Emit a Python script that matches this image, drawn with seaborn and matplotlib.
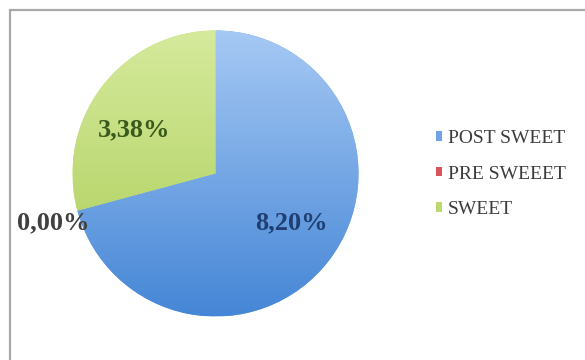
import numpy as np
import matplotlib
matplotlib.use("Agg")
import matplotlib.pyplot as plt
from matplotlib.colors import LinearSegmentedColormap
from matplotlib.patches import Rectangle
import seaborn as sns

# Shares by phase (percent)
categories = ["POST SWEET", "PRE SWEEET", "SWEET"]
shares = [8.20, 0.00, 3.38]

sns.set_theme(style="white")
plt.rcParams["font.family"] = ["Liberation Serif", "DejaVu Serif"]

base_colors = ["#6fa3e4", "#d9545a", "#bcd96e"]
gradients = {
    0: ("#a6c9f4", "#4586d6"),
    1: ("#e98a8e", "#c63d44"),
    2: ("#d6ea9c", "#a8cc55"),
}
label_colors = ["#1f3f72", "#404040", "#3a5a1c"]
label_pos = [(291, 223), (53, 223), (134, 130)]

W, H = 585, 360
fig = plt.figure(figsize=(W / 100, H / 100), dpi=100)
ax = fig.add_axes([0, 0, 1, 1])

cx, cy, r = 215.5, H - 173.5, 143
wedges, _ = ax.pie(
    shares,
    colors=base_colors,
    startangle=90,
    counterclock=False,
    center=(cx, cy),
    radius=r,
    frame=True,
    wedgeprops=dict(linewidth=0),
)

# vertical shading inside each slice
grad = np.linspace(0, 1, 256).reshape(-1, 1)
for i, w in enumerate(wedges):
    if shares[i] <= 0:
        continue
    cmap = LinearSegmentedColormap.from_list(f"g{i}", gradients[i])
    im = ax.imshow(grad, cmap=cmap, extent=(cx - r, cx + r, cy - r, cy + r),
                   origin="upper", aspect="auto", zorder=w.get_zorder() + 0.1,
                   interpolation="bilinear")
    im.set_clip_path(w)

# percentage labels
for val, col, (x, y) in zip(shares, label_colors, label_pos):
    ax.text(x, H - y, f"{val:.2f}%".replace(".", ","), ha="center", va="center",
            fontsize=19, fontweight="bold", color=col, zorder=5)

ax.set_xlim(0, W)
ax.set_ylim(0, H)
ax.set_aspect("auto")
ax.axis("off")

# chart-area border
ax.add_patch(Rectangle((10, -20), W + 20, H - 10 + 20, fill=False,
                       edgecolor="#a8a8a8", linewidth=1.6, zorder=6))

leg = ax.legend(
    wedges, categories,
    loc="center left",
    bbox_to_anchor=(418 / W, 1 - 174 / H),
    bbox_transform=fig.transFigure,
    frameon=False,
    fontsize=14,
    handlelength=0.35,
    handleheight=0.35,
    handletextpad=0.3,
    labelspacing=0.95,
)
for t in leg.get_texts():
    t.set_color("#3c3c3c")

fig.savefig("out.png", dpi=100, facecolor="white")
